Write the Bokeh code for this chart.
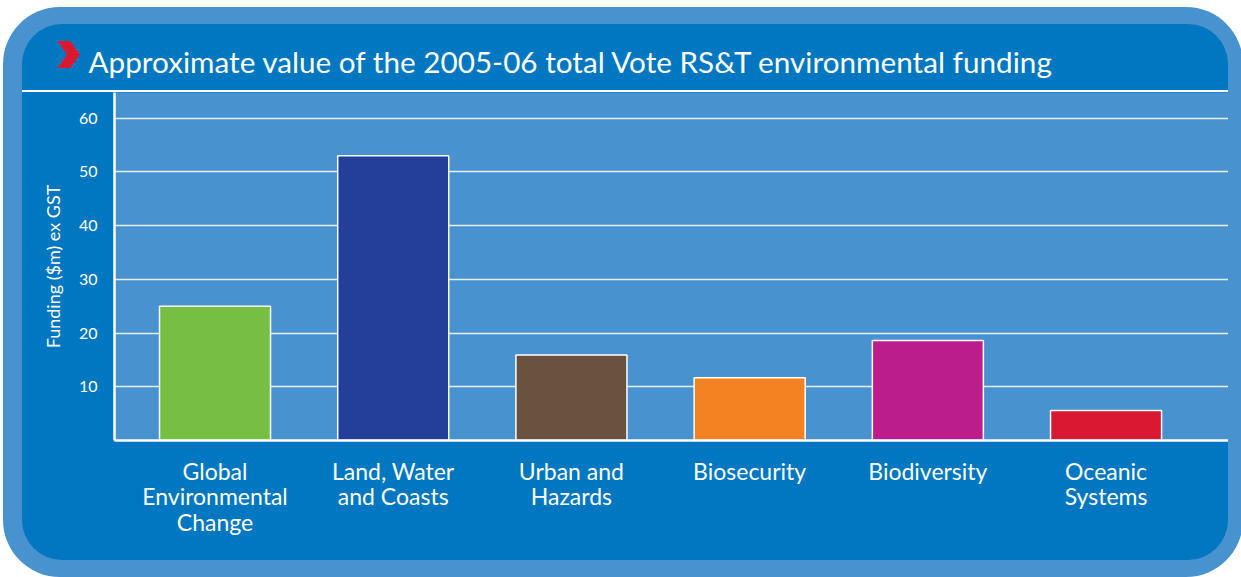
from bokeh.plotting import figure
from bokeh.models import FixedTicker, ColumnDataSource
from bokeh.embed import file_html
from bokeh.resources import INLINE

categories = ["Global\nEnvironmental\nChange", "Land, Water\nand Coasts", "Urban and\nHazards",
              "Biosecurity", "Biodiversity", "Oceanic\nSystems"]
values = [25, 53, 15.9, 11.7, 18.6, 5.6]
colors = ["#76bf43", "#233f99", "#6b5140", "#f58220", "#bb1e8c", "#d91932"]
y_ticks = [10, 20, 30, 40, 50, 60]
title_text = "Approximate value of the 2005-06 total Vote RS&T environmental funding"
y_label = "Funding ($m) ex GST"

FONT = "Lato"
DARK = "#0077c0"
LIGHT = "#4893cf"
RED = "#d91932"

positions = list(range(len(categories)))
src = ColumnDataSource(dict(x=positions, top=values, color=colors))

p = figure(width=1206, height=536, x_range=(-0.564, 5.687), y_range=(0, 64.8),
           output_backend="svg", toolbar_location=None, title=title_text,
           min_border_left=92, min_border_right=0, min_border_top=68, min_border_bottom=120)
p.title.align = "left"
p.title.offset = -26
p.title.standoff = 28
p.title.text_color = "white"
p.title.text_font = FONT
p.title.text_font_size = "29.7px"
p.title.text_font_style = "normal"

p.background_fill_color = LIGHT
p.border_fill_alpha = 0
p.outline_line_color = None

# panel frame, title rule and red chevron marker drawn as CSS background layers
chev = "transparent 7.6px, {c} 7.6px, {c} 18.2px, transparent 18.2px".format(c=RED)
p.styles = {
    "margin-left": "22px", "margin-top": "24px",
    "border-radius": "40px", "background-color": DARK,
    "box-shadow": "-2px 0 0 17px " + LIGHT,
    "background-image": ", ".join([
        "linear-gradient(54.5deg, " + chev + ")",
        "linear-gradient(125.5deg, " + chev + ")",
        "linear-gradient(#ffffff,#ffffff)",
    ]),
    "background-size": "22px 14px, 22px 14px, 100% 2px",
    "background-position": "36px 17px, 36px 30px, 0 66px",
    "background-repeat": "no-repeat",
}

p.vbar(x="x", top="top", width=0.623, fill_color="color", line_color="white",
       line_width=1.5, source=src)

# grid
p.xgrid.visible = False
p.ygrid.ticker = FixedTicker(ticks=y_ticks)
p.ygrid.grid_line_color = "white"
p.ygrid.grid_line_width = 1.5
p.ygrid.grid_line_alpha = 0.85

# y axis
ya = p.yaxis[0]
ya.ticker = FixedTicker(ticks=y_ticks)
ya.axis_line_color = "white"
ya.axis_line_width = 2.5
ya.major_tick_line_color = None
ya.minor_tick_line_color = None
ya.major_label_text_color = "white"
ya.major_label_text_font = FONT
ya.major_label_text_font_size = "16px"
ya.major_label_standoff = 11
ya.axis_label = y_label
ya.axis_label_text_color = "white"
ya.axis_label_text_font = FONT
ya.axis_label_text_font_style = "normal"
ya.axis_label_text_font_size = "18px"
ya.axis_label_standoff = 12

# x axis
xa = p.xaxis[0]
xa.ticker = FixedTicker(ticks=positions)
xa.major_label_overrides = {i: c for i, c in zip(positions, categories)}
xa.axis_line_color = "white"
xa.axis_line_width = 2.5
xa.major_tick_line_color = None
xa.minor_tick_line_color = None
xa.major_label_text_color = "white"
xa.major_label_text_font = FONT
xa.major_label_text_font_size = "23px"
xa.major_label_text_line_height = 0.92
xa.major_label_standoff = 10

open("out.html", "w").write(file_html(p, INLINE))
